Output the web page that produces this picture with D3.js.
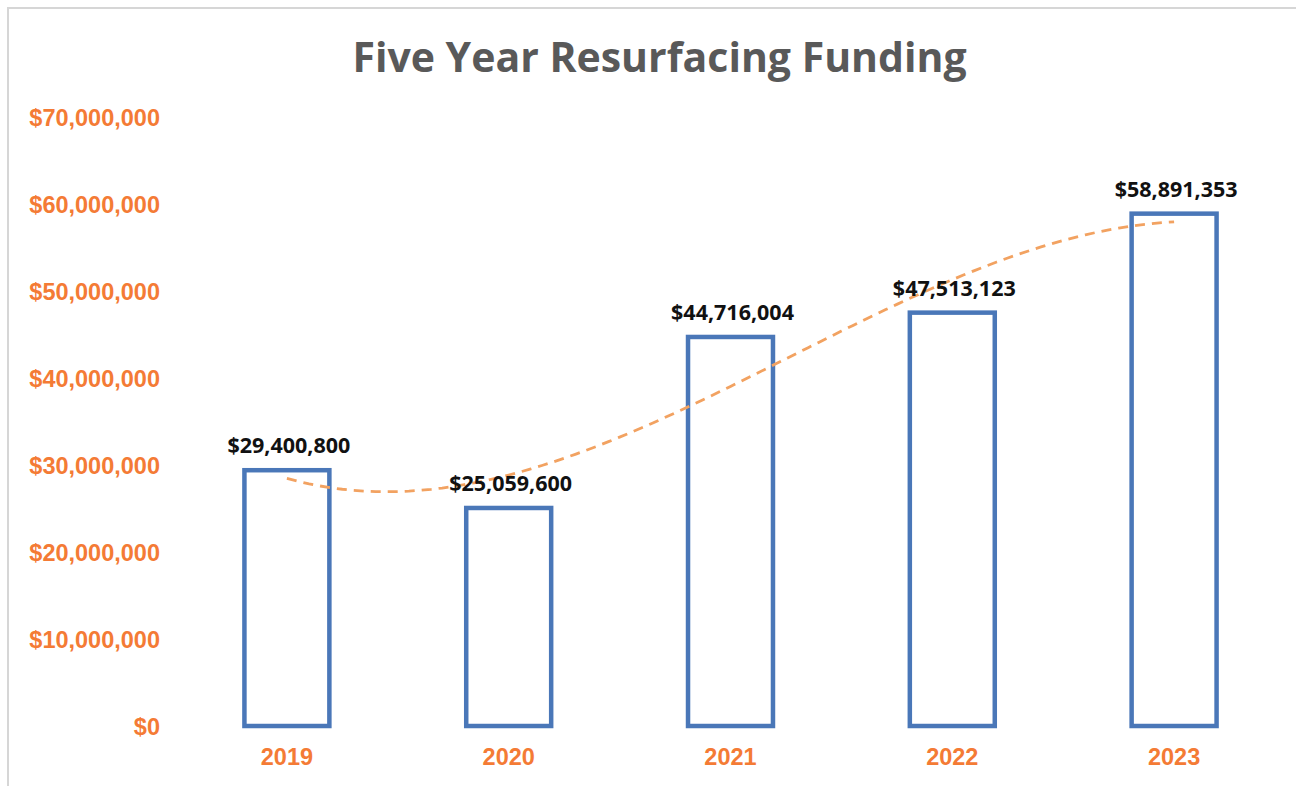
<!DOCTYPE html>
<html>
<head>
<meta charset="utf-8">
<script src="https://cdn.jsdelivr.net/npm/d3@7"></script>
<style>
  html, body { margin: 0; padding: 0; background: #ffffff; }
  svg { display: block; }
</style>
</head>
<body>
<svg id="chart" width="1296" height="786"></svg>
<script>
// ---- data ----
const chartTitle = "Five Year Resurfacing Funding";
const years = ["2019", "2020", "2021", "2022", "2023"];
const funding = [29400800, 25059600, 44716004, 47513123, 58891353];
const yTicks = [0, 10000000, 20000000, 30000000, 40000000, 50000000, 60000000, 70000000];
const trendOrder = 3; // polynomial trendline order

// ---- layout ----
const W = 1296, H = 786;
const svg = d3.select("#chart");

svg.append("rect")
  .attr("x", 8).attr("y", 8)
  .attr("width", W + 20).attr("height", H + 20)
  .attr("fill", "#ffffff")
  .attr("stroke", "#d6d6d6")
  .attr("stroke-width", 2);

const x = d3.scaleBand()
  .domain(years)
  .range([176, 1285])
  .paddingInner(0.617)
  .paddingOuter(0.3085);

const y = d3.scaleLinear()
  .domain([0, 70000000])
  .range([726, 117]);

const orange = "#f47b35";
const blue = "#4a77b8";

// title
svg.append("text")
  .attr("x", 659.5).attr("y", 72)
  .attr("text-anchor", "middle")
  .attr("font-family", "'Open Sans', sans-serif")
  .attr("font-weight", 700)
  .attr("font-size", 41)
  .attr("fill", "#595959")
  .text(chartTitle);

// y axis labels
const yAxis = d3.axisLeft(y)
  .tickValues(yTicks)
  .tickSize(0)
  .tickPadding(0)
  .tickFormat(d => "$" + d3.format(",")(d));
const yg = svg.append("g")
  .attr("transform", "translate(160,0)")
  .call(yAxis);
yg.select(".domain").remove();
yg.selectAll("text")
  .attr("font-family", "'Liberation Sans', Arial, sans-serif")
  .attr("font-weight", 700)
  .attr("font-size", 23.5)
  .attr("fill", orange)
  .attr("dy", "0.35em");

// x axis labels
const xAxis = d3.axisBottom(x).tickSize(0).tickPadding(0);
const xg = svg.append("g")
  .attr("transform", "translate(0,765)")
  .call(xAxis);
xg.select(".domain").remove();
xg.selectAll("text")
  .attr("y", 0)
  .attr("dy", 0)
  .attr("font-family", "'Liberation Sans', Arial, sans-serif")
  .attr("font-weight", 700)
  .attr("font-size", 23.5)
  .attr("fill", orange);

// bars (hollow)
svg.append("g").selectAll("rect")
  .data(years)
  .join("rect")
  .attr("x", d => x(d))
  .attr("y", (d, i) => y(funding[i]))
  .attr("width", x.bandwidth())
  .attr("height", (d, i) => y(0) - y(funding[i]))
  .attr("fill", "none")
  .attr("stroke", blue)
  .attr("stroke-width", 4.5);

// polynomial trendline (least squares, like a spreadsheet trendline)
function polyFit(xs, ys, order) {
  const n = order + 1;
  const A = Array.from({length: n}, () => new Array(n + 1).fill(0));
  for (let r = 0; r < n; r++) {
    for (let c = 0; c < n; c++) A[r][c] = d3.sum(xs, xv => Math.pow(xv, r + c));
    A[r][n] = d3.sum(xs, (xv, k) => ys[k] * Math.pow(xv, r));
  }
  for (let i = 0; i < n; i++) {
    let p = i;
    for (let k = i + 1; k < n; k++) if (Math.abs(A[k][i]) > Math.abs(A[p][i])) p = k;
    [A[i], A[p]] = [A[p], A[i]];
    for (let k = i + 1; k < n; k++) {
      const f = A[k][i] / A[i][i];
      for (let j = i; j <= n; j++) A[k][j] -= f * A[i][j];
    }
  }
  const coef = new Array(n).fill(0);
  for (let i = n - 1; i >= 0; i--) {
    let s = A[i][n];
    for (let j = i + 1; j < n; j++) s -= A[i][j] * coef[j];
    coef[i] = s / A[i][i];
  }
  return coef;
}
const idx = years.map((d, i) => i + 1);
const coef = polyFit(idx, funding.map(v => v / 1e6), trendOrder);
const evalPoly = t => coef.reduce((s, c, k) => s + c * Math.pow(t, k), 0) * 1e6;
const posOf = t => x(years[0]) + x.bandwidth() / 2 + (t - 1) * x.step();
const trendPts = d3.range(1, years.length + 0.0001, 0.05).map(t => [posOf(t), y(evalPoly(t))]);

svg.append("path")
  .datum(trendPts)
  .attr("d", d3.line().curve(d3.curveLinear))
  .attr("fill", "none")
  .attr("stroke", "#f2a261")
  .attr("stroke-width", 2.8)
  .attr("stroke-dasharray", "10,7");

// data labels
const fmt = v => "$" + d3.format(",")(v);
svg.append("g").selectAll("text")
  .data(years)
  .join("text")
  .attr("x", d => x(d) + x.bandwidth() / 2 + 2)
  .attr("y", (d, i) => y(funding[i]) - 17)
  .attr("text-anchor", "middle")
  .attr("font-family", "'Open Sans', sans-serif")
  .attr("font-weight", 700)
  .attr("font-size", 21.5)
  .attr("fill", "#111111")
  .text((d, i) => fmt(funding[i]));
</script>
</body>
</html>
